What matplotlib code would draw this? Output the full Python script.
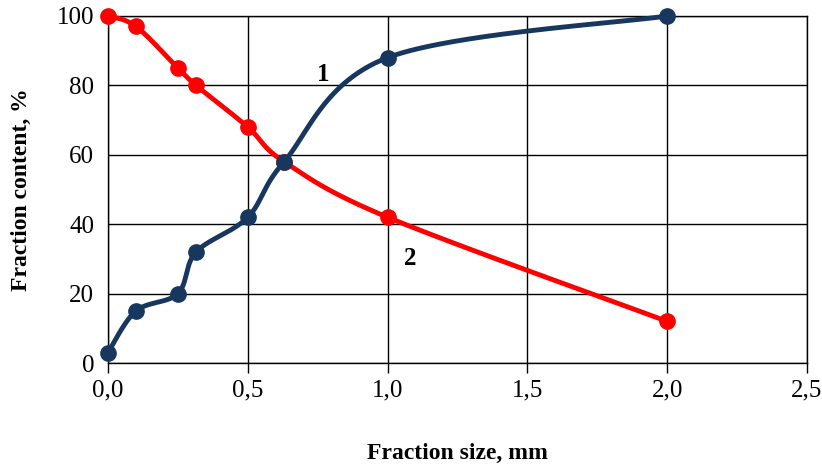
import numpy as np
import matplotlib
matplotlib.use("Agg")
import matplotlib.pyplot as plt
from matplotlib.ticker import FuncFormatter

x_size = [0.0, 0.1, 0.25, 0.315, 0.5, 0.63, 1.0, 2.0]
series1 = [3, 15, 20, 32, 42, 58, 88, 100]
series2 = [100, 97, 85, 80, 68, 58, 42, 12]
x_ticks = [0.0, 0.5, 1.0, 1.5, 2.0, 2.5]
y_ticks = [0, 20, 40, 60, 80, 100]

plt.rcParams['font.family'] = ['Liberation Serif', 'DejaVu Serif']


def smooth(xs, ys, n=60):
    xs = np.asarray(xs, float)
    ys = np.asarray(ys, float)
    sx = 699 / 2.5
    sy = 347 / 100
    P = np.column_stack([xs * sx, ys * sy])
    out = [P[0]]
    for i in range(len(P) - 1):
        p0 = P[i - 1] if i > 0 else P[i]
        p1 = P[i]
        p2 = P[i + 1]
        p3 = P[i + 2] if i + 2 < len(P) else P[i + 1]
        c1 = p1 + (p2 - p0) / 6
        c2 = p2 - (p3 - p1) / 6
        t = np.linspace(0, 1, n)[1:, None]
        seg = ((1 - t) ** 3) * p1 + 3 * ((1 - t) ** 2) * t * c1 + 3 * (1 - t) * t ** 2 * c2 + t ** 3 * p2
        out.extend(seg)
    out = np.array(out)
    return out[:, 0] / sx, out[:, 1] / sy


fig = plt.figure(figsize=(8.22, 4.67), dpi=100)
ax = fig.add_axes([108 / 822, 1 - 363 / 467, 699 / 822, 347 / 467])

blue = '#17375E'
red = '#FF0000'

sx1, sy1 = smooth(x_size, series1)
sx2, sy2 = smooth(x_size, series2)
ax.plot(sx2, sy2, color=red, lw=3.5, zorder=3, solid_capstyle='round', clip_on=False)
ax.plot(x_size, series2, 'o', color=red, ms=11, zorder=4, clip_on=False)
ax.plot(sx1, sy1, color=blue, lw=3.5, zorder=5, solid_capstyle='round', clip_on=False)
ax.plot(x_size, series1, 'o', color=blue, ms=11, zorder=6, clip_on=False)

ax.set_xlim(0, 2.5)
ax.set_ylim(0, 100)
ax.set_xticks(x_ticks)
ax.set_yticks(y_ticks)
ax.xaxis.set_major_formatter(FuncFormatter(lambda v, p: f"{v:.1f}".replace('.', ',')))
ax.grid(True, color='black', lw=1)
ax.set_axisbelow(True)
for s in ax.spines.values():
    s.set_color('black')
    s.set_linewidth(1)
ax.tick_params(axis='x', direction='out', length=7, width=1, labelsize=18, pad=5)
ax.tick_params(axis='y', length=0, labelsize=18, pad=10)

ax.set_xlabel('Fraction size, mm', fontsize=17, fontweight='bold', labelpad=30)
ax.set_ylabel('Fraction content, %', fontsize=17, fontweight='bold', labelpad=18)

ax.text(0.77, 83, '1', fontsize=18, fontweight='bold', ha='center', va='center', zorder=7)
ax.text(1.08, 30, '2', fontsize=18, fontweight='bold', ha='center', va='center', zorder=7)

fig.savefig('out.png', dpi=100)
